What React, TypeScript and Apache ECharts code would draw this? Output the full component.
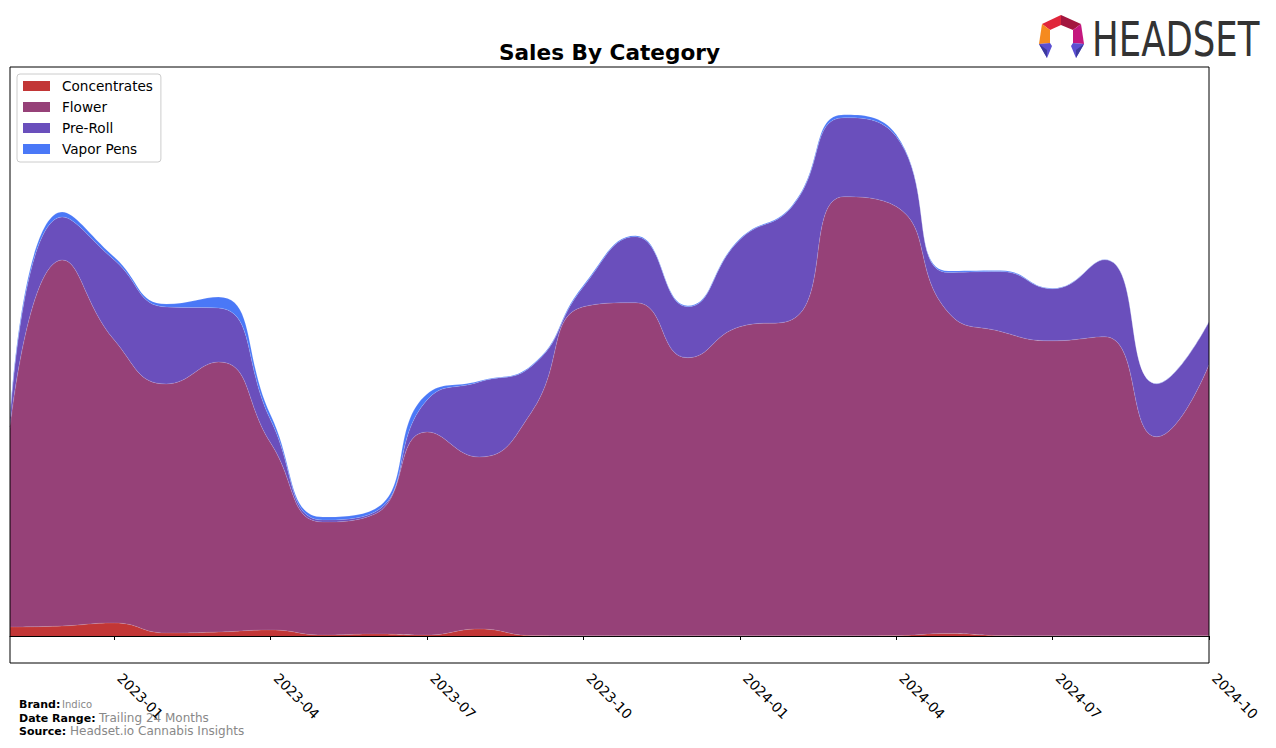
import React, { useEffect, useRef } from 'react';
import * as echarts from 'echarts';

const months = ['2022-11','2022-12','2023-01','2023-02','2023-03','2023-04','2023-05','2023-06','2023-07','2023-08','2023-09','2023-10','2023-11','2023-12','2024-01','2024-02','2024-03','2024-04','2024-05','2024-06','2024-07','2024-08','2024-09','2024-10'];

const concentrates = [9, 10, 13, 3, 4, 6, 1, 2, 1, 7, 0.5, 0.3, 0.3, 0.3, 0.3, 0.3, 0.3, 0.5, 2.5, 0.5, 0.2, 0.2, 0.2, 0.2];
const flower = [199, 366, 283, 249, 270, 187, 113, 120, 203, 172, 223, 329, 333, 278, 309, 316, 439, 429, 321, 304, 295, 299, 199, 271];
const preRoll = [8, 43, 80, 77, 54, 23, 2, 2, 32, 75, 46, 20, 66, 51, 87, 113, 79, 70, 40, 60, 52, 77, 53, 43];
const vaporPens = [3, 5, 3, 3, 11, 5, 3, 3, 6, 1, 1, 1.5, 1, 1, 1, 1, 3, 2, 1.5, 1, 0.5, 0.3, 0.2, 0.2];

const seriesNames = ['Concentrates', 'Flower', 'Pre-Roll', 'Vapor Pens'];
const seriesColors = ['#c23636', '#964178', '#6a4fbc', '#4a78f7'];

const FONT = "'DejaVu Sans', sans-serif";

export default function App() {
  const ref = useRef<HTMLDivElement>(null);
  useEffect(() => {
    if (!ref.current) return;
    const chart = echarts.init(ref.current, null, { renderer: 'svg' });
    const datasets = [concentrates, flower, preRoll, vaporPens];
    const tickFn = (i: number) => i % 3 === 2;
    chart.setOption({
      animation: false,
      backgroundColor: '#fff',
      grid: {
        left: 10,
        right: 67,
        top: 67,
        bottom: 85,
        show: true,
        borderColor: '#000',
        borderWidth: 1,
        backgroundColor: 'transparent',
        z: 10,
      },
      legend: {
        left: 17,
        top: 74,
        orient: 'vertical',
        itemWidth: 27,
        itemHeight: 10,
        itemGap: 7,
        icon: 'rect',
        padding: [5, 8, 6, 6],
        backgroundColor: '#fff',
        borderColor: '#cccccc',
        borderWidth: 1,
        borderRadius: 3,
        data: seriesNames,
        textStyle: {
          fontFamily: FONT,
          fontSize: 13.6,
          color: '#000',
          lineHeight: 14,
          padding: [0, 0, 0, 7],
        },
      },
      xAxis: {
        type: 'category',
        data: months,
        boundaryGap: false,
        axisLine: { show: true, lineStyle: { color: '#000', width: 1 } },
        axisTick: { show: true, interval: tickFn, length: 4, lineStyle: { color: '#000' } },
        axisLabel: {
          interval: tickFn,
          rotate: -45,
          margin: 7,
          padding: [0, 0, 0, 8],
          fontFamily: FONT,
          fontSize: 13.8,
          color: '#000',
        },
        splitLine: { show: false },
      },
      yAxis: {
        type: 'value',
        min: -27,
        max: 569,
        show: false,
        splitLine: { show: false },
      },
      series: datasets.map((d, i) => ({
        name: seriesNames[i],
        type: 'line',
        stack: 'total',
        data: d,
        smooth: 0.5,
        symbol: 'none',
        lineStyle: { width: 0.6, color: 'rgba(255,255,255,0.25)' },
        itemStyle: { color: seriesColors[i] },
        areaStyle: { color: seriesColors[i], opacity: 1 },
        emphasis: { disabled: true },
        silent: true,
      })),
      graphic: [
        {
          type: 'text',
          x: 609.5,
          y: 52,
          style: {
            text: 'Sales By Category',
            fontFamily: FONT,
            fontWeight: 'bold',
            fontSize: 21.6,
            fill: '#000',
            textAlign: 'center',
            textVerticalAlign: 'middle',
          },
        },
        { type: 'text', x: 19, y: 704, style: { text: 'Brand:', fontFamily: FONT, fontWeight: 'bold', fontSize: 11, fill: '#000', textVerticalAlign: 'middle' } },
        { type: 'text', x: 62, y: 704, style: { text: 'Indico', fontFamily: FONT, fontSize: 10, fill: '#888', textVerticalAlign: 'middle' } },
        { type: 'text', x: 19, y: 718, style: { text: 'Date Range:', fontFamily: FONT, fontWeight: 'bold', fontSize: 11, fill: '#000', textVerticalAlign: 'middle' } },
        { type: 'text', x: 99, y: 718, style: { text: 'Trailing 24 Months', fontFamily: FONT, fontSize: 12, fill: '#888', textVerticalAlign: 'middle' } },
        { type: 'text', x: 19, y: 731, style: { text: 'Source:', fontFamily: FONT, fontWeight: 'bold', fontSize: 11, fill: '#000', textVerticalAlign: 'middle' } },
        { type: 'text', x: 70, y: 731, style: { text: 'Headset.io Cannabis Insights', fontFamily: FONT, fontSize: 12, fill: '#888', textVerticalAlign: 'middle' } },
        // logo icon
        { type: 'polygon', shape: { points: [[1061, 15], [1042, 24], [1050, 30], [1061, 25]] }, style: { fill: '#e0263b' } },
        { type: 'polygon', shape: { points: [[1061, 15], [1081, 24], [1073, 30], [1061, 25]] }, style: { fill: '#a3163f' } },
        { type: 'polygon', shape: { points: [[1042, 24], [1039, 44], [1050, 43], [1050, 30]] }, style: { fill: '#f58a1f' } },
        { type: 'polygon', shape: { points: [[1081, 24], [1084, 44], [1073, 43], [1073, 30]] }, style: { fill: '#c4177e' } },
        { type: 'polygon', shape: { points: [[1039, 44], [1050, 43], [1052, 46], [1047, 58]] }, style: { fill: '#5b4fd1' } },
        { type: 'polygon', shape: { points: [[1039, 44], [1047, 50], [1047, 58]] }, style: { fill: '#3c3a9e' } },
        { type: 'polygon', shape: { points: [[1073, 43], [1084, 44], [1076, 58], [1071, 46]] }, style: { fill: '#5b4fd1' } },
        { type: 'polygon', shape: { points: [[1084, 44], [1076, 50], [1076, 58]] }, style: { fill: '#3c3a9e' } },
        {
          type: 'text',
          x: 1092,
          y: 39.5,
          scaleX: 0.74,
          style: {
            text: 'HEADSET',
            fontFamily: FONT,
            fontSize: 48,
            fill: '#333',
            textVerticalAlign: 'middle',
          },
        },
      ],
    });
    return () => chart.dispose();
  }, []);
  return (
    <div
      ref={ref}
      style={{ position: 'fixed', left: 0, top: 0, width: 1276, height: 748, background: '#fff' }}
    />
  );
}
